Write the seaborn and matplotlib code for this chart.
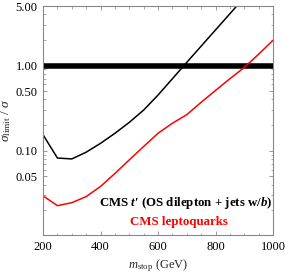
import matplotlib
matplotlib.use("Agg")
import matplotlib.pyplot as plt
import matplotlib.ticker as mticker
import seaborn as sns
import pandas as pd

mass_black = [200, 250, 300, 350, 400, 450, 500, 550, 600, 650, 700, 750, 800, 850, 900]
ratio_black = [0.154, 0.082, 0.080, 0.096, 0.122, 0.160, 0.215, 0.30, 0.45, 0.70, 1.09, 1.69, 2.62, 4.06, 6.3]
mass_red = [200, 250, 300, 350, 400, 450, 500, 550, 600, 650, 700, 750, 800, 850, 900, 950, 1000]
ratio_red = [0.0295, 0.0226, 0.0245, 0.0289, 0.038, 0.054, 0.078, 0.112, 0.160, 0.21, 0.265, 0.37, 0.51, 0.70, 0.95, 1.36, 1.98]
ref_mass = [200, 1000]
ref_ratio = [1.0, 1.0]
x_ticks = [200, 400, 600, 800, 1000]
y_ticks = [0.05, 0.10, 0.50, 1.00, 5.00]
label_black = "CMS $\\mathbfit{t}$\u2032 (OS dilepton + jets w/$\\mathbfit{b}$)"
label_red = "CMS leptoquarks"

sns.set_style("ticks")
plt.rcParams["font.family"] = ["Liberation Serif", "DejaVu Serif"]
plt.rcParams["mathtext.fontset"] = "custom"
plt.rcParams["mathtext.rm"] = "Liberation Serif"
plt.rcParams["mathtext.it"] = "Liberation Serif:italic"
plt.rcParams["mathtext.bf"] = "Liberation Serif:bold"
plt.rcParams["mathtext.bfit"] = "Liberation Serif:bold:italic"

fig = plt.figure(figsize=(2.85, 2.74), dpi=100)
ax = fig.add_axes([0.151, 0.142, 0.807, 0.836])

df_b = pd.DataFrame({"m": mass_black, "r": ratio_black})
df_r = pd.DataFrame({"m": mass_red, "r": ratio_red})
df_ref = pd.DataFrame({"m": ref_mass, "r": ref_ratio})

sns.lineplot(data=df_ref, x="m", y="r", color="black", linewidth=4.0, ax=ax)
sns.lineplot(data=df_b, x="m", y="r", color="black", linewidth=1.1, ax=ax)
sns.lineplot(data=df_r, x="m", y="r", color="#ff0000", linewidth=1.1, ax=ax)

ax.set_yscale("log")
ax.set_xlim(200, 1000)
ax.set_ylim(0.0102, 5.0)
ax.set_xticks(x_ticks)
ax.xaxis.set_minor_locator(mticker.MultipleLocator(50))
ax.set_yticks(y_ticks)
ax.set_yticklabels([f"{v:.2f}" for v in y_ticks])
ax.yaxis.set_minor_locator(mticker.LogLocator(base=10, subs=range(1, 10)))
ax.yaxis.set_minor_formatter(mticker.NullFormatter())

for s in ax.spines.values():
    s.set_color("#888888")
    s.set_linewidth(0.8)
ax.tick_params(which="both", direction="in", top=True, right=True, colors="#888888",
               labelcolor="black", labelsize=9)
ax.tick_params(which="major", length=3, width=0.6, pad=4)
ax.tick_params(which="minor", length=1.8, width=0.5)

ax.set_xlabel(r"$m_{\mathrm{stop}}$ (GeV)", fontsize=9, labelpad=3)
ax.set_ylabel(r"$\sigma_{\mathrm{limit}}\ /\ \sigma$", fontsize=9.5, labelpad=2)

ax.text(0.995, 0.14, label_black, transform=ax.transAxes, ha="right", va="center",
        fontsize=9.3, fontweight="bold", color="black")
ax.text(0.805, 0.055, label_red, transform=ax.transAxes, ha="right", va="center",
        fontsize=9.3, fontweight="bold", color="#ff0000")

fig.savefig("out.png", dpi=100)
